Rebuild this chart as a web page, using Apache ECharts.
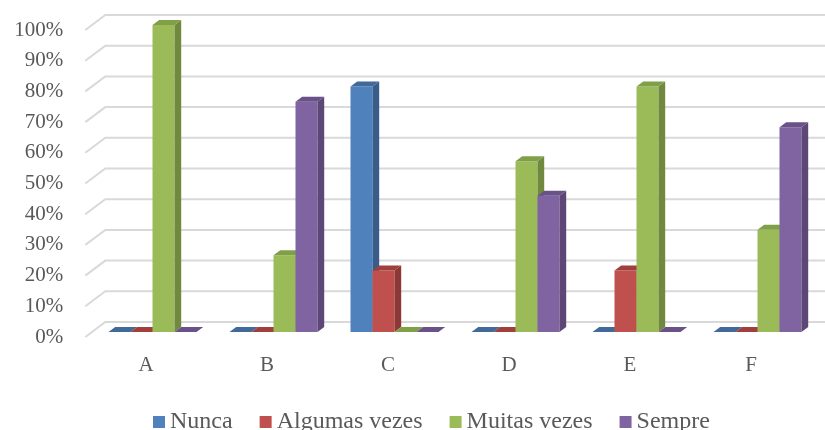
<!DOCTYPE html>
<html>
<head>
<meta charset="utf-8">
<script src="https://cdn.jsdelivr.net/npm/echarts@6/dist/echarts.min.js"></script>
<style>
  html, body { margin: 0; padding: 0; background: #ffffff; }
  #chart { width: 825px; height: 430px; }
</style>
</head>
<body>
<div id="chart"></div>
<script>
// Categories and answer shares (%) per frequency level
const categories = ['A', 'B', 'C', 'D', 'E', 'F'];
const seriesNames = ['Nunca', 'Algumas vezes', 'Muitas vezes', 'Sempre'];
const nunca        = [0, 0, 80, 0, 0, 0];
const algumasVezes = [0, 0, 20, 0, 20, 0];
const muitasVezes  = [100, 25, 0, 55.6, 80, 33.3];
const sempre       = [0, 75, 0, 44.4, 0, 66.7];
const yTicks = [0, 10, 20, 30, 40, 50, 60, 70, 80, 90, 100];

const seriesValues = [nunca, algumasVezes, muitasVezes, sempre];
const faceColors = ['#4F81BD', '#C0504D', '#9BBB59', '#8064A2'];
const sideColors = ['#385D8A', '#8C3836', '#71893F', '#5C4776'];
const topColors  = ['#41699A', '#A03F3C', '#80A048', '#6A5289'];

// depth of one bar (3D look) and of the whole floor
const BAR_DX = 6.7, BAR_DY = -5;
const FRONT_DX = -6.7, FRONT_DY = 5;
const BACK_DX = 13.3, BACK_DY = -10;
const BAR_W = 22;

const chart = echarts.init(document.getElementById('chart'), null, { renderer: 'canvas' });

function gridRenderer(params, api) {
  const v = api.value(0);
  const p = api.coord([0, v]);
  const cs = params.coordSys;
  const fx = cs.x + FRONT_DX, fy = p[1] + FRONT_DY;
  const bx = cs.x + BACK_DX, by = p[1] + BACK_DY;
  return {
    type: 'polyline',
    shape: { points: [[fx, fy], [bx, by], [api.getWidth(), by]] },
    style: { stroke: '#D9D9D9', lineWidth: 2, fill: null },
    silent: true
  };
}

function barRenderer(idx) {
  return function (params, api) {
    const cat = api.value(0);
    const val = api.value(1);
    const top = api.coord([cat, val]);
    const base = api.coord([cat, 0]);
    const x0 = top[0] - 2 * BAR_W + idx * BAR_W;
    const x1 = x0 + BAR_W;
    const yt = top[1], yb = base[1];
    const children = [];
    if (yb - yt > 0.5) {
      children.push({
        type: 'rect',
        shape: { x: x0, y: yt, width: BAR_W, height: yb - yt },
        style: { fill: faceColors[idx] }
      });
      children.push({
        type: 'polygon',
        shape: { points: [[x1, yt], [x1 + BAR_DX, yt + BAR_DY], [x1 + BAR_DX, yb + BAR_DY], [x1, yb]] },
        style: { fill: sideColors[idx] }
      });
    }
    children.push({
      type: 'polygon',
      shape: { points: [[x0, yt], [x0 + BAR_DX, yt + BAR_DY], [x1 + BAR_DX, yt + BAR_DY], [x1, yt]] },
      style: { fill: topColors[idx] }
    });
    return { type: 'group', children: children };
  };
}

const series = [{
  type: 'custom',
  name: '__grid',
  renderItem: gridRenderer,
  data: yTicks.map(v => [v]),
  encode: { y: 0 },
  z: 1,
  silent: true,
  legendHoverLink: false
}];

seriesValues.forEach((vals, i) => {
  series.push({
    type: 'custom',
    name: seriesNames[i],
    itemStyle: { color: faceColors[i] },
    renderItem: barRenderer(i),
    data: vals.map((v, c) => [c, v]),
    encode: { x: 0, y: 1 },
    z: 2
  });
});

const labelFont = { color: '#595959', fontSize: 21, fontFamily: 'Liberation Serif' };

chart.setOption({
  animation: false,
  textStyle: { fontFamily: 'Liberation Serif' },
  grid: [
    // plane of the bars
    { left: 92, right: 7, top: 25, bottom: 98, containLabel: false },
    // front edge of the floor, carries the percentage labels
    { left: 85.3, right: 13.7, top: 30, bottom: 93, containLabel: false }
  ],
  xAxis: [{
    type: 'category',
    gridIndex: 0,
    data: categories,
    axisLine: { show: false },
    axisTick: { show: false },
    splitLine: { show: false },
    axisLabel: Object.assign({ margin: 23, padding: [0, 13, 0, 0] }, labelFont)
  }, {
    type: 'category',
    gridIndex: 1,
    data: categories,
    show: false
  }],
  yAxis: [{
    type: 'value',
    gridIndex: 0,
    min: 0,
    max: 100,
    interval: 10,
    show: false
  }, {
    type: 'value',
    gridIndex: 1,
    min: 0,
    max: 100,
    interval: 10,
    axisLine: { show: false },
    axisTick: { show: false },
    splitLine: { show: false },
    axisLabel: Object.assign({ margin: 22, formatter: v => v + '%' }, labelFont)
  }],
  legend: {
    data: seriesNames.map(n => ({ name: n, icon: 'rect' })),
    left: 148,
    top: 405,
    itemWidth: 12,
    itemHeight: 12,
    itemGap: 27,
    textStyle: { color: '#595959', fontSize: 24, fontFamily: 'Liberation Serif' }
  },
  series: series
});
</script>
</body>
</html>
